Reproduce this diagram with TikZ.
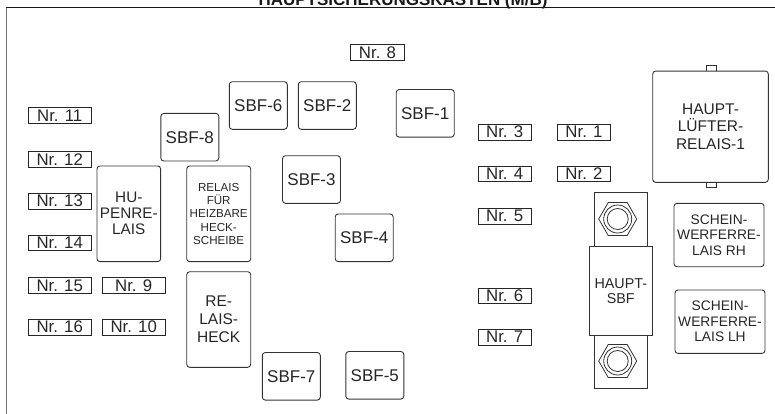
\documentclass[tikz,border=0pt]{standalone}
\usepackage{fontspec}
\setmainfont{Liberation Sans}
\begin{document}
\begin{tikzpicture}[x=1pt,y=-1pt,
  box/.style={draw=black!80, line width=0.9pt, rounded corners=3pt, align=center, inner sep=0pt, text=black!85},
  nrbox/.style={draw=black!85, line width=0.8pt, inner sep=0pt, text=black!85, font=\fontsize{16.8}{18}\selectfont},
  sz/.style 2 args={minimum width=#1pt, minimum height=#2pt},
  sbf/.style={box, sz={58}{47.6}, font=\fontsize{17}{18}\selectfont},
  plain/.style={draw=black!80, line width=0.9pt}
]
\useasboundingbox (0,0) rectangle (775,413);
\clip (0,0) rectangle (775,413);
% title (cut off at the top, as in the reference)
\node[font=\bfseries\fontsize{17}{17}\selectfont, anchor=base, inner sep=0pt, text=black!90] (title) at (403,5) {HAUPTSICHERUNGSKASTEN (M/B)};
% outer frame
\draw[black!55, line width=1.8pt] (6.5,420) -- (6.5,7.5);
\draw[black!90, line width=1.6pt] (5.6,7.5) -- (780,7.5);

% Nr. boxes, left column
\node[nrbox, sz={63.5}{15.6}] (n11) at (59.7,115.5) {Nr. 11};
\node[nrbox, sz={63.5}{15.6}] (n12) at (59.7,159.2) {Nr. 12};
\node[nrbox, sz={63.5}{15.6}] (n13) at (59.7,201.2) {Nr. 13};
\node[nrbox, sz={63.5}{15.6}] (n14) at (59.7,242.7) {Nr. 14};
\node[nrbox, sz={63.5}{15.6}] (n15) at (59.7,285.3) {Nr. 15};
\node[nrbox, sz={63.5}{15.6}] (n16) at (59.7,327.2) {Nr. 16};
\node[nrbox, sz={63.5}{15.6}] (n9) at (133.7,285.3) {Nr. 9};
\node[nrbox, sz={63.5}{15.6}] (n10) at (133.7,327.2) {Nr. 10};
% Nr. boxes, right
\node[nrbox, sz={53.5}{16}] (n8) at (377.5,52.5) {Nr. 8};
\node[nrbox, sz={53.5}{15.6}] (n3) at (504.7,132.2) {Nr. 3};
\node[nrbox, sz={53.5}{15.6}] (n1) at (584,132.2) {Nr. 1};
\node[nrbox, sz={53.5}{15.6}] (n4) at (504.7,173.8) {Nr. 4};
\node[nrbox, sz={53.5}{15.6}] (n2) at (584,173.8) {Nr. 2};
\node[nrbox, sz={53.5}{15.6}] (n5) at (504.7,216.2) {Nr. 5};
\node[nrbox, sz={53.5}{15.6}] (n6) at (504.7,295.8) {Nr. 6};
\node[nrbox, sz={53.5}{15.6}] (n7) at (504.7,337.2) {Nr. 7};

% SBF boxes
\node[sbf] (sbf6) at (258.3,105.5) {SBF-6};
\node[sbf] (sbf2) at (327.3,105.5) {SBF-2};
\node[sbf] (sbf1) at (425.2,113.3) {SBF-1};
\node[sbf] (sbf3) at (311.5,179.5) {SBF-3};
\node[sbf] (sbf4) at (364.2,237.8) {SBF-4};
\node[sbf] (sbf7) at (291.3,376.3) {SBF-7};
\node[sbf] (sbf5) at (374.8,375.3) {SBF-5};
\node[sbf] (sbf8) at (189.8,137.2) {SBF-8};

% relays
\node[box, sz={63.7}{95.7}, font=\fontsize{15.3}{16}\selectfont] (hupe) at (128.8,213.8) {HU-\\PENRE-\\LAIS};
\node[box, sz={64}{95.7}, font=\fontsize{11.6}{13.3}\selectfont] (heiz) at (218.7,213.8) {RELAIS\\FÜR\\HEIZBARE\\HECK-\\SCHEIBE};
\node[box, sz={64}{95.6}, font=\fontsize{15.5}{18}\selectfont] (heck) at (218.7,319.5) {RE-\\LAIS-\\HECK};
\node[box, sz={115.6}{111.3}, font=\fontsize{15.5}{17.3}\selectfont] (luefter) at (710.5,126.7) {HAUPT-\\LÜFTER-\\RELAIS-1};
\draw[plain] (706,71) -- (706,65) -- (716.7,65) -- (716.7,71);
\draw[plain] (706,182.3) -- (706,187.3) -- (716.7,187.3) -- (716.7,182.3);
\node[box, sz={90}{63.4}, font=\fontsize{13.8}{15.5}\selectfont] (rh) at (719,235) {SCHEIN-\\WERFERRE-\\LAIS RH};
\node[box, sz={90}{63.4}, font=\fontsize{13.8}{15.5}\selectfont] (lh) at (720,321.7) {SCHEIN-\\WERFERRE-\\LAIS LH};

% main fuse
\draw[plain] (594.3,246) -- (594.3,192.3) -- (647.7,192.3) -- (647.7,246);
\draw[plain] (594.3,335.7) -- (594.3,388.3) -- (647.7,388.3) -- (647.7,335.7);
\node[box, rounded corners=0pt, sz={63.7}{89.7}, font=\fontsize{14.3}{15.3}\selectfont] (hsbf) at (620.8,290.8) {HAUPT-\\SBF};
\foreach \yy in {219,361}{
  \draw[plain, line width=0.8pt] (617.7+19,\yy) -- (617.7+9.5,\yy+16.45) -- (617.7-9.5,\yy+16.45) -- (617.7-19,\yy) -- (617.7-9.5,\yy-16.45) -- (617.7+9.5,\yy-16.45) -- cycle;
  \draw[plain, line width=0.8pt] (617.7,\yy) circle (14);
  \draw[plain, line width=0.8pt] (617.7,\yy) circle (10.5);
}
\end{tikzpicture}
\end{document}
